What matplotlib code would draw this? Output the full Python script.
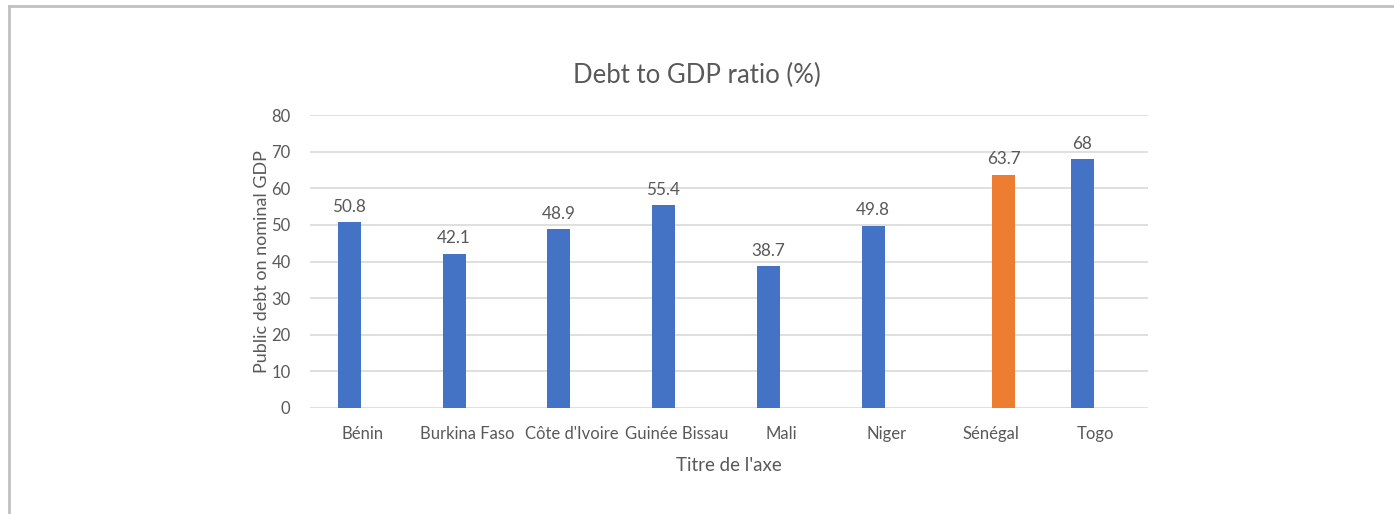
import matplotlib
matplotlib.use("Agg")
import matplotlib.pyplot as plt
from matplotlib.lines import Line2D
import numpy as np

plt.rcParams['font.family'] = ['Lato', 'DejaVu Sans']

countries = ["Bénin", "Burkina Faso", "Côte d'Ivoire", "Guinée Bissau",
             "Mali", "Niger", "Sénégal", "Togo"]
# Two series: the WAEMU members in blue, Sénégal highlighted in orange
others = [50.8, 42.1, 48.9, 55.4, 38.7, 49.8, None, 68.0]
senegal = [None, None, None, None, None, None, 63.7, None]

yticks = [0, 10, 20, 30, 40, 50, 60, 70, 80]
title = "Debt to GDP ratio (%)"
ylabel = "Public debt on nominal GDP"
xlabel = "Titre de l'axe"

blue = "#4472C4"
orange = "#ED7D31"
text_gray = "#595959"
grid_gray = "#D9D9D9"

fig = plt.figure(figsize=(13.94, 5.14), dpi=100)
ax = fig.add_axes([310 / 1394, 1 - 408 / 514, 838 / 1394, 293 / 514])

x = np.arange(len(countries))
bar_w = 0.22
offset = 0.125


def draw_series(values, shift, color):
    for xi, v in zip(x, values):
        if v is None:
            continue
        ax.bar(xi + shift, v, width=bar_w, color=color, zorder=3)
        label = f"{v:g}"
        ax.text(xi + shift, v + 2.0, label, ha="center", va="bottom",
                fontsize=12.3, color=text_gray)


draw_series(others, -offset, blue)
draw_series(senegal, offset, orange)

ax.set_xlim(-0.5, len(countries) - 0.5)
ax.set_ylim(0, 80)
ax.set_yticks(yticks)
ax.set_xticks(x)
ax.set_xticklabels(countries)
ax.tick_params(axis="both", length=0, labelsize=12, colors=text_gray)
ax.tick_params(axis="x", pad=13)
ax.tick_params(axis="y", pad=14)
ax.grid(axis="y", color=grid_gray, linewidth=1.2, zorder=0)
for s in ax.spines.values():
    s.set_visible(False)

fig.text(697 / 1394, 1 - 75 / 514, title, fontsize=18.5, color=text_gray,
         ha="center", va="center")
ax.set_ylabel(ylabel, fontsize=13, color=text_gray, labelpad=1)
ax.set_xlabel(xlabel, fontsize=13.5, color=text_gray, labelpad=11)

# Frame lines along the top and left edges of the chart area
fig.add_artist(Line2D([9 / 1394, 1], [1 - 5.5 / 514] * 2, transform=fig.transFigure,
                      color="#C0C0C0", linewidth=2))
fig.add_artist(Line2D([9 / 1394] * 2, [0, 1 - 5.5 / 514], transform=fig.transFigure,
                      color="#C0C0C0", linewidth=2))

fig.savefig("out.png", dpi=100, facecolor="white")
